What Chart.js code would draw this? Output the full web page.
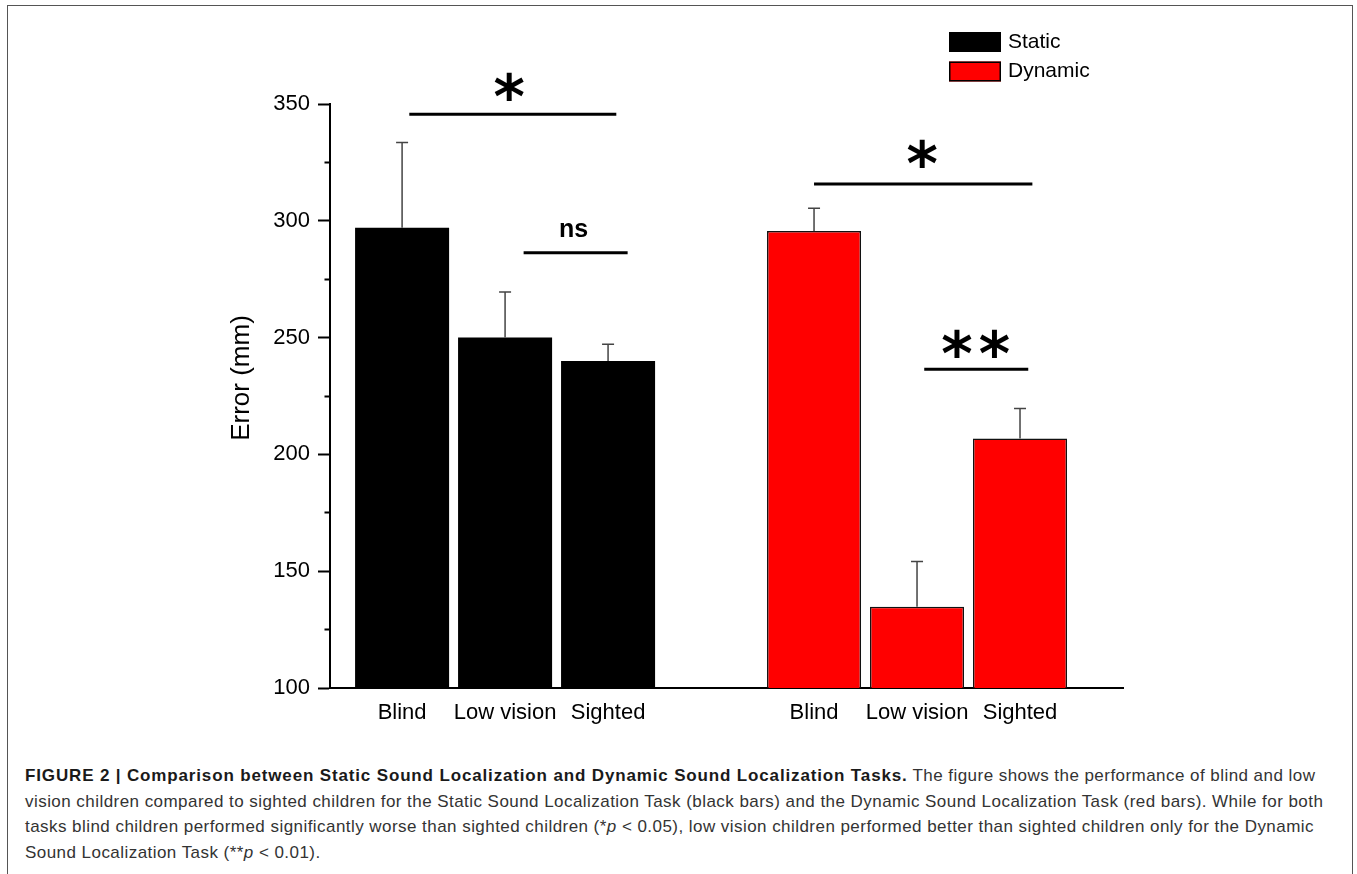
<!DOCTYPE html>
<html>
<head>
    <title>Static vs Dynamic Sound Localization</title>
    <script src="https://cdn.jsdelivr.net/npm/chart.js"></script>
    <style>
        body { margin: 0; background: #fff; font-family: "Liberation Sans", Arial, sans-serif; }
        #frame { position: absolute; left: 7px; top: 5px; width: 1344px; height: 900px; border: 1.5px solid #555; }
        #chartBox { position: absolute; left: 0; top: 0; width: 1357px; height: 745px; }
        #caption { position: absolute; left: 25px; top: 763px; width: 1320px; font-size: 17px; letter-spacing: 0.45px; line-height: 25.7px; color: #333; white-space: nowrap; }
        #caption b { color: #1a1a1a; letter-spacing: 0.85px; }
    </style>
</head>
<body>
    <div id="frame"></div>
    <div id="chartBox"><canvas id="errChart" width="1357" height="745"></canvas></div>
    <div id="caption">
        <b>FIGURE 2 | Comparison between Static Sound Localization and Dynamic Sound Localization Tasks.</b> The figure shows the performance of blind and low<br>
        vision children compared to sighted children for the Static Sound Localization Task (black bars) and the Dynamic Sound Localization Task (red bars). While for both<br>
        tasks blind children performed significantly worse than sighted children (*<i>p</i> &lt; 0.05), low vision children performed better than sighted children only for the Dynamic<br>
        Sound Localization Task (**<i>p</i> &lt; 0.01).
    </div>

    <script>
        // kategori dan data
        const groupLabels = ['Blind', 'Low vision', 'Sighted'];
        const staticPos = [1, 2, 3];
        const dynamicPos = [5, 6, 7];
        const staticMean = [297, 250, 240];
        const staticSem = [36.5, 19.5, 7.2];
        const dynamicMean = [295.6, 134.8, 206.8];
        const dynamicSem = [9.8, 19.3, 12.9];
        const yTicks = [100, 150, 200, 250, 300, 350];

        // garis signifikansi: dari x1 ke x2 pada nilai y
        const sigLines = [
            { x1: 1.07, x2: 3.08, y: 345.6, text: '*', tx: 2.04, ty: 356 },
            { x1: 2.18, x2: 3.19, y: 286.3, text: 'ns', tx: 2.665, ty: 296 },
            { x1: 5.0, x2: 7.12, y: 315.7, text: '*', tx: 6.05, ty: 327 },
            { x1: 6.07, x2: 7.08, y: 236.5, text: '**', tx: 6.57, ty: 246 }
        ];

        const allPos = staticPos.concat(dynamicPos);

        const extras = {
            id: 'extras',
            afterDatasetsDraw(chart) {
                const { ctx, scales: { x, y } } = chart;
                ctx.save();
                // error bar (hanya ke atas)
                const sems = [staticSem, dynamicSem];
                chart.data.datasets.forEach((ds, di) => {
                    ds.data.forEach((p, i) => {
                        const px = x.getPixelForValue(p.x);
                        const y0 = y.getPixelForValue(p.y);
                        const y1 = y.getPixelForValue(p.y + sems[di][i]);
                        ctx.strokeStyle = '#444';
                        ctx.lineWidth = 1.5;
                        ctx.beginPath();
                        ctx.moveTo(px, y0);
                        ctx.lineTo(px, y1);
                        ctx.moveTo(px - 6, y1);
                        ctx.lineTo(px + 6, y1);
                        ctx.stroke();
                    });
                });
                // garis dan bintang
                sigLines.forEach(s => {
                    ctx.strokeStyle = '#000';
                    ctx.lineWidth = 3;
                    ctx.beginPath();
                    ctx.moveTo(x.getPixelForValue(s.x1), y.getPixelForValue(s.y));
                    ctx.lineTo(x.getPixelForValue(s.x2), y.getPixelForValue(s.y));
                    ctx.stroke();
                    ctx.fillStyle = '#000';
                    ctx.textAlign = 'center';
                    ctx.textBaseline = 'middle';
                    if (s.text === 'ns') {
                        ctx.font = 'bold 25px "Liberation Sans", Arial';
                        ctx.fillText(s.text, x.getPixelForValue(s.tx), y.getPixelForValue(s.ty));
                    } else {
                        ctx.font = 'bold 60px "DejaVu Sans"';
                        ctx.fillText(s.text.split('').join('\u200A'), x.getPixelForValue(s.tx), y.getPixelForValue(s.ty) + 12);
                    }
                });
                // judul sumbu y
                ctx.translate(242, 378);
                ctx.rotate(-Math.PI / 2);
                ctx.font = '26px "Liberation Sans", Arial';
                ctx.fillStyle = '#000';
                ctx.fillText('Error (mm)', 0, 0);
                ctx.restore();

                // legenda
                ctx.save();
                chart.data.datasets.forEach((ds, i) => {
                    const top = 32 + i * 29.5;
                    ctx.fillStyle = ds.backgroundColor;
                    ctx.fillRect(949, top, 52, 20);
                    ctx.strokeStyle = '#000';
                    ctx.lineWidth = 1.5;
                    ctx.strokeRect(949.75, top + 0.75, 50.5, 18.5);
                    ctx.fillStyle = '#000';
                    ctx.font = '21px "Liberation Sans", Arial';
                    ctx.textAlign = 'left';
                    ctx.textBaseline = 'middle';
                    ctx.fillText(ds.label, 1008, top + 10);
                });
                ctx.restore();
            }
        };

        const ctx = document.getElementById('errChart').getContext('2d');
        const errChart = new Chart(ctx, {
            type: 'bar',
            data: {
                datasets: [{
                    label: 'Static',
                    data: staticPos.map((p, i) => ({ x: p, y: staticMean[i] })),
                    backgroundColor: '#000000',
                    borderColor: '#000000',
                    borderWidth: 0
                }, {
                    label: 'Dynamic',
                    data: dynamicPos.map((p, i) => ({ x: p, y: dynamicMean[i] })),
                    backgroundColor: '#ff0000',
                    borderColor: '#111',
                    borderWidth: 1.5,
                    borderSkipped: false
                }]
            },
            options: {
                responsive: false,
                animation: false,
                grouped: false,
                barPercentage: 0.913,
                categoryPercentage: 1,
                layout: { padding: { left: 0, right: 234, top: 104, bottom: 7 } },
                plugins: { legend: { display: false }, tooltip: { enabled: false } },
                scales: {
                    x: {
                        type: 'linear',
                        offset: false,
                        min: 0.3,
                        max: 8,
                        afterBuildTicks: (s) => { s.ticks = allPos.map(v => ({ value: v })); },
                        afterFit: (s) => { s.height = 50; },
                        grid: { display: false, drawTicks: false },
                        border: { display: true, color: '#000', width: 2 },
                        ticks: {
                            padding: 12,
                            color: '#000',
                            font: { family: '"Liberation Sans", Arial', size: 22 },
                            callback: (v) => groupLabels[allPos.indexOf(v) % 3]
                        }
                    },
                    y: {
                        min: 100,
                        max: 350,
                        afterFit: (s) => { s.width = 330; },
                        afterBuildTicks: (s) => {
                            const t = [];
                            for (let v = 100; v <= 350; v += 25) t.push({ value: v });
                            s.ticks = t;
                        },
                        grid: {
                            drawOnChartArea: false,
                            drawTicks: true,
                            tickLength: 12,
                            tickWidth: 2,
                            tickColor: '#000',
                            tickBorderDash: (c) => (yTicks.includes(c.tick.value) ? [] : [0, 6.5, 6, 30])
                        },
                        border: { display: true, color: '#000', width: 2 },
                        ticks: {
                            autoSkip: false,
                            padding: 8,
                            color: '#000',
                            font: { family: '"Liberation Sans", Arial', size: 22 },
                            callback: (v) => (yTicks.includes(v) ? v : '')
                        }
                    }
                }
            },
            plugins: [extras]
        });
    </script>
</body>
</html>
